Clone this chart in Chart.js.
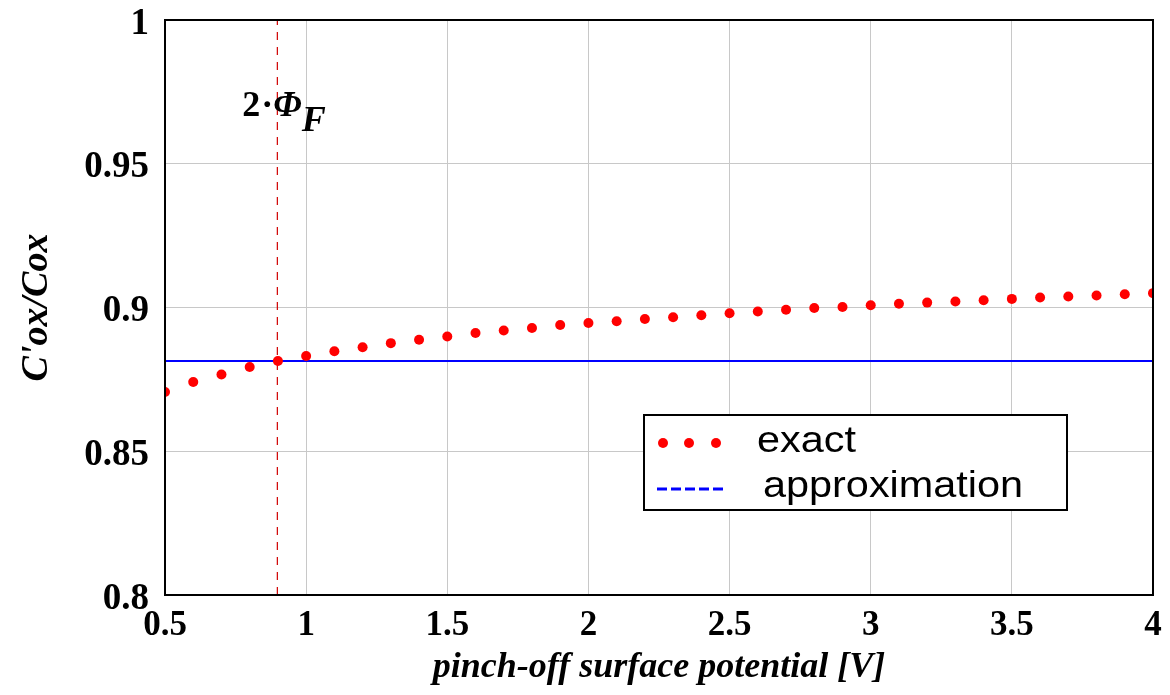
<!DOCTYPE html>
<html>
<head>
<meta charset="utf-8">
<title>C'ox/Cox vs pinch-off surface potential</title>
<script src="https://cdn.jsdelivr.net/npm/chart.js@4"></script>
<style>
  html, body { margin: 0; padding: 0; background: #fff; }
  #wrap { width: 1170px; height: 695px; }
</style>
</head>
<body>
<div id="wrap"><canvas id="capChart" width="1170" height="695"></canvas></div>
<script>
// pinch-off surface potential [V]
const potentials = [0.5, 0.6, 0.7, 0.8, 0.9, 1.0, 1.1, 1.2, 1.3, 1.4, 1.5, 1.6,
                    1.7, 1.8, 1.9, 2.0, 2.1, 2.2, 2.3, 2.4, 2.5, 2.6, 2.7, 2.8,
                    2.9, 3.0, 3.1, 3.2, 3.3, 3.4, 3.5, 3.6, 3.7, 3.8, 3.9, 4.0];
// C'ox/Cox, exact solution
const exactRatio = [0.8706, 0.8741, 0.8767, 0.8793, 0.8814, 0.8831, 0.8848, 0.8862,
                    0.8876, 0.8888, 0.8899, 0.8911, 0.8920, 0.8929, 0.8939, 0.8946,
                    0.8952, 0.8960, 0.8966, 0.8973, 0.8980, 0.8986, 0.8992, 0.8998,
                    0.9002, 0.9008, 0.9013, 0.9017, 0.9021, 0.9025, 0.9030, 0.9035,
                    0.9038, 0.9042, 0.9046, 0.9050];
// constant approximation
const approxRange = [0.5, 4];
const approxRatio = 0.8814;
// 2*PhiF marker
const twoPhiF = 0.898;

const xTickLabels = ['0.5', '1', '1.5', '2', '2.5', '3', '3.5', '4'];
const yTickLabels = ['0.8', '0.85', '0.9', '0.95', '1'];

const serif = "'Liberation Serif', 'Times New Roman', serif";
const sans = "'Liberation Sans', Arial, sans-serif";

const frameAndLegend = {
    id: 'frameAndLegend',
    afterDraw(chart) {
        const ctx = chart.ctx;
        const area = chart.chartArea;
        const xScale = chart.scales.x;
        ctx.save();

        // plot frame
        ctx.strokeStyle = '#000';
        ctx.lineWidth = 2;
        ctx.strokeRect(area.left, area.top, area.right - area.left, area.bottom - area.top);

        // 2·ΦF annotation next to the marker line
        const px = xScale.getPixelForValue(twoPhiF);
        ctx.fillStyle = '#000';
        ctx.textBaseline = 'alphabetic';
        ctx.textAlign = 'left';
        ctx.font = `bold 36px ${serif}`;
        let tx = px - 35;
        ctx.fillText('2', tx, 116);
        tx += ctx.measureText('2').width;
        ctx.fillText('\u00b7', tx + 1, 116);
        tx += ctx.measureText('\u00b7').width + 1;
        ctx.font = `italic bold 36px ${serif}`;
        ctx.fillText('\u03a6', tx, 116);
        tx += ctx.measureText('\u03a6').width;
        ctx.fillText('F', tx, 131);

        // legend box
        const box = { left: 644, top: 415, right: 1067, bottom: 510 };
        ctx.fillStyle = '#fff';
        ctx.fillRect(box.left, box.top, box.right - box.left, box.bottom - box.top);
        ctx.strokeStyle = '#000';
        ctx.lineWidth = 2;
        ctx.strokeRect(box.left, box.top, box.right - box.left, box.bottom - box.top);

        const dsExact = chart.data.datasets[0];
        const dsApprox = chart.data.datasets[1];

        ctx.fillStyle = dsExact.backgroundColor;
        [663, 689, 716].forEach(cx => {
            ctx.beginPath();
            ctx.arc(cx, 443, 5, 0, Math.PI * 2);
            ctx.fill();
        });

        ctx.strokeStyle = dsApprox.borderColor;
        ctx.lineWidth = 3;
        ctx.setLineDash([10, 4]);
        ctx.beginPath();
        ctx.moveTo(657, 489);
        ctx.lineTo(725, 489);
        ctx.stroke();
        ctx.setLineDash([]);

        // legend text, slightly stretched like the original
        ctx.fillStyle = '#000';
        ctx.font = `36px ${sans}`;
        const stretch = 1.15;
        ctx.save();
        ctx.translate(757, 452);
        ctx.scale(stretch, 1);
        ctx.fillText(dsExact.label, 0, 0);
        ctx.restore();
        ctx.save();
        ctx.translate(763, 497);
        ctx.scale(stretch, 1);
        ctx.fillText(dsApprox.label, 0, 0);
        ctx.restore();

        ctx.restore();
    }
};

new Chart(document.getElementById('capChart'), {
    type: 'scatter',
    data: {
        datasets: [
            {
                label: 'exact',
                data: potentials.map((v, i) => ({ x: v, y: exactRatio[i] })),
                backgroundColor: '#ff0000',
                borderWidth: 0,
                pointRadius: 5,
                showLine: false,
                order: 0
            },
            {
                label: 'approximation',
                data: approxRange.map(v => ({ x: v, y: approxRatio })),
                borderColor: '#0000ff',
                borderWidth: 2,
                pointRadius: 0,
                showLine: true,
                order: 2
            },
            {
                label: '2·ΦF',
                data: [{ x: twoPhiF, y: 0.8 }, { x: twoPhiF, y: 1 }],
                borderColor: '#d00000',
                borderWidth: 1.2,
                borderDash: [8, 7],
                pointRadius: 0,
                showLine: true,
                order: 1
            }
        ]
    },
    options: {
        responsive: false,
        animation: false,
        devicePixelRatio: 1,
        layout: { padding: { top: 20, right: 17, left: 0, bottom: 0 } },
        plugins: {
            legend: { display: false },
            tooltip: { enabled: false }
        },
        scales: {
            x: {
                type: 'linear',
                min: 0.5,
                max: 4,
                afterFit: s => {
                    s.height = 100;
                    s.paddingLeft = 0;
                    s.paddingRight = 0;
                },
                border: { display: false },
                grid: { color: '#c8c8c8', lineWidth: 1, drawTicks: false },
                ticks: {
                    stepSize: 0.5,
                    padding: 10,
                    color: '#000',
                    font: { family: serif, size: 35, weight: 'bold' },
                    callback: (v, i) => xTickLabels[i]
                },
                title: {
                    display: true,
                    text: 'pinch-off surface potential [V]',
                    color: '#000',
                    font: { family: serif, size: 36, weight: 'bold', style: 'italic' },
                    padding: { top: 0, bottom: 6 }
                }
            },
            y: {
                type: 'linear',
                min: 0.8,
                max: 1,
                afterFit: s => {
                    s.width = 165;
                    s.paddingTop = 0;
                    s.paddingBottom = 0;
                },
                border: { display: false },
                grid: { color: '#c8c8c8', lineWidth: 1, drawTicks: false },
                ticks: {
                    stepSize: 0.05,
                    padding: 16,
                    labelOffset: 4,
                    color: '#000',
                    font: { family: serif, size: 37, weight: 'bold' },
                    callback: (v, i) => yTickLabels[i]
                },
                title: {
                    display: true,
                    text: "C'ox/Cox",
                    color: '#000',
                    font: { family: serif, size: 38, weight: 'bold', style: 'italic' },
                    padding: { top: 14, bottom: 0 }
                }
            }
        }
    },
    plugins: [frameAndLegend]
});
</script>
</body>
</html>
